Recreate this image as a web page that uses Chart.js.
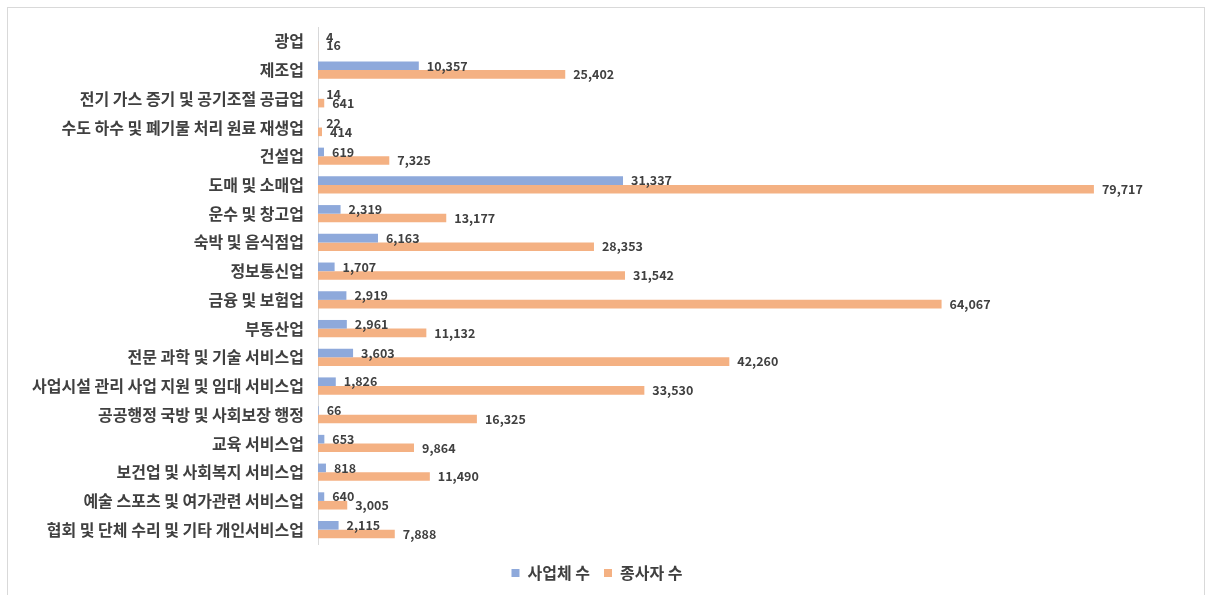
<!DOCTYPE html>
<html>
<head>
<meta charset="utf-8">
<script src="https://cdn.jsdelivr.net/npm/chart.js@4.4.0/dist/chart.umd.min.js"></script>
<style>
  body { margin: 0; background: #fff; }
  canvas { display: block; }
</style>
</head>
<body>
<canvas id="myChart1" width="1210" height="595"></canvas>
<script>
var labels1 = ["광업", "제조업", "전기 가스 증기 및 공기조절 공급업", "수도 하수 및 폐기물 처리 원료 재생업",
    "건설업", "도매 및 소매업", "운수 및 창고업", "숙박 및 음식점업", "정보통신업", "금융 및 보험업",
    "부동산업", "전문 과학 및 기술 서비스업", "사업시설 관리 사업 지원 및 임대 서비스업",
    "공공행정 국방 및 사회보장 행정", "교육 서비스업", "보건업 및 사회복지 서비스업",
    "예술 스포츠 및 여가관련 서비스업", "협회 및 단체 수리 및 기타 개인서비스업"];
var firms = [4, 10357, 14, 22, 619, 31337, 2319, 6163, 1707, 2919, 2961, 3603, 1826, 66, 653, 818, 640, 2115];
var workers = [16, 25402, 641, 414, 7325, 79717, 13177, 28353, 31542, 64067, 11132, 42260, 33530, 16325, 9864, 11490, 3005, 7888];
var seriesNames = ["사업체 수", "종사자 수"];

var korFont = "'Noto Sans CJK KR', 'Noto Sans', sans-serif";

// value labels at bar ends
var valueLabels = {
    id: "valueLabels",
    afterDatasetsDraw: function(chart) {
        var ctx = chart.ctx;
        ctx.save();
        ctx.font = "bold 12.5px " + korFont;
        ctx.fillStyle = "#404040";
        ctx.textBaseline = "middle";
        ctx.textAlign = "left";
        chart.data.datasets.forEach(function(ds, i) {
            var meta = chart.getDatasetMeta(i);
            meta.data.forEach(function(bar, j) {
                ctx.fillText(ds.data[j].toLocaleString("en-US"), bar.x + 8, bar.y);
            });
        });
        ctx.restore();
    }
};

// light frame round the chart
var frame = {
    id: "frame",
    beforeDraw: function(chart) {
        var ctx = chart.ctx;
        ctx.save();
        ctx.strokeStyle = "#D9D9D9";
        ctx.lineWidth = 1;
        ctx.strokeRect(7.5, 7.5, 1197, 610);
        ctx.restore();
    }
};

var ctx1 = document.getElementById("myChart1").getContext("2d");
var myNewChart1 = new Chart(ctx1, {
    type: "bar",
    data: {
        labels: labels1,
        datasets: [
            { label: seriesNames[0], data: firms, backgroundColor: "#8EA9DB" },
            { label: seriesNames[1], data: workers, backgroundColor: "#F4B183" }
        ]
    },
    options: {
        indexAxis: "y",
        responsive: false,
        animation: false,
        layout: { padding: { top: 27, right: 16, bottom: 4, left: 0 } },
        datasets: { bar: { categoryPercentage: 0.6, barPercentage: 1.0 } },
        scales: {
            x: {
                min: 0, max: 90000,
                ticks: { display: false },
                grid: { display: false },
                border: { display: false },
                afterFit: function(s) { s.height = 7; }
            },
            y: {
                grid: { display: false, drawTicks: false },
                border: { display: true, color: "#D9D9D9", width: 1 },
                ticks: {
                    padding: 14,
                    color: "#404040",
                    font: { family: korFont, size: 16, weight: "bold" }
                },
                afterFit: function(s) { s.width = 318; }
            }
        },
        plugins: {
            legend: {
                position: "bottom",
                labels: {
                    boxWidth: 8, boxHeight: 8, padding: 14,
                    color: "#404040",
                    font: { family: korFont, size: 16, weight: "bold" }
                }
            },
            tooltip: { enabled: false }
        }
    },
    plugins: [valueLabels, frame]
});
</script>
</body>
</html>
